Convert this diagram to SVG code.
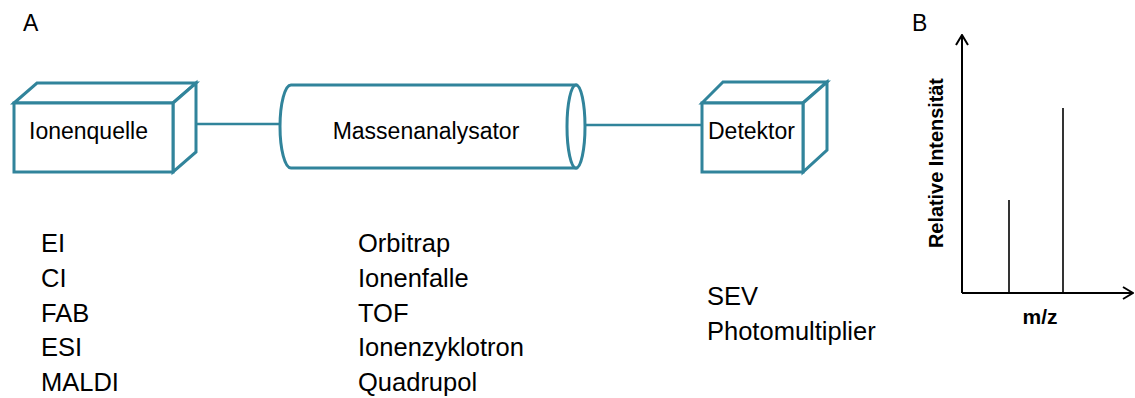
<svg xmlns="http://www.w3.org/2000/svg" width="1135" height="398" viewBox="0 0 1135 398">
<style>
.shape{fill:#ffffff;stroke:#31849B;stroke-width:3;stroke-linejoin:miter}
.conn{stroke:#31849B;stroke-width:2.5;fill:none}
.t{font-family:"Liberation Sans",Arial,sans-serif;fill:#000}
.lbl{font-size:23px}
.lst{font-size:25.5px}
.ax{stroke:#000;stroke-width:2;fill:none}
.pk{stroke:#000;stroke-width:1.6}
.b{font-family:"Liberation Sans",Arial,sans-serif;font-weight:bold;font-size:21px;fill:#000}
</style>
<defs>
<marker id="open" viewBox="0 0 12 14" refX="11" refY="7" markerWidth="12" markerHeight="14" markerUnits="userSpaceOnUse" orient="auto">
<path d="M1,1 L11,7 L1,13" fill="none" stroke="#000" stroke-width="2"/>
</marker>
</defs>
<text class="t" x="23" y="31" font-size="23">A</text>
<g id="connectors">
<line class="conn" x1="196" y1="124" x2="281" y2="124"/>
<line class="conn" x1="586" y1="125" x2="702" y2="125"/>
</g>
<g id="ionenquelle">
<path class="shape" d="M14,103 L37,83 L196,83 L173,103 Z"/>
<path class="shape" d="M173,103 L196,83 L196,152 L173,172 Z"/>
<rect class="shape" x="14" y="103" width="159" height="69"/>
<text class="t lbl" x="29" y="139">Ionenquelle</text>
</g>
<g id="massenanalysator">
<path class="shape" d="M291,85 L576,85 L576,168 L291,168 A11,41.5 0 0 1 291,85 Z"/>
<ellipse class="shape" cx="576" cy="126.5" rx="9" ry="41.5"/>
<text class="t lbl" x="426" y="139" text-anchor="middle">Massenanalysator</text>
</g>
<g id="detektor">
<path class="shape" d="M702,103 L723,82 L827,82 L803,103 Z"/>
<path class="shape" d="M803,103 L827,82 L827,150 L803,172 Z"/>
<rect class="shape" x="702" y="103" width="101" height="69"/>
<text class="t lbl" x="708" y="139">Detektor</text>
</g>
<g id="liste-quellen">
<text class="t lst" x="41" y="252">EI</text>
<text class="t lst" x="41" y="287">CI</text>
<text class="t lst" x="41" y="322">FAB</text>
<text class="t lst" x="41" y="356">ESI</text>
<text class="t lst" x="41" y="391">MALDI</text>
</g>
<g id="liste-analysatoren">
<text class="t lst" x="358" y="252">Orbitrap</text>
<text class="t lst" x="358" y="287">Ionenfalle</text>
<text class="t lst" x="358" y="322">TOF</text>
<text class="t lst" x="358" y="356">Ionenzyklotron</text>
<text class="t lst" x="358" y="391">Quadrupol</text>
</g>
<g id="liste-detektoren">
<text class="t lst" x="707" y="305">SEV</text>
<text class="t lst" x="707" y="340">Photomultiplier</text>
</g>
<g id="spektrum">
<text class="t" x="912" y="31" font-size="23">B</text>
<line class="ax" x1="962" y1="293" x2="962" y2="35" marker-end="url(#open)"/>
<line class="ax" x1="962" y1="293" x2="1133" y2="293" marker-end="url(#open)"/>
<line class="pk" x1="1009" y1="200" x2="1009" y2="293"/>
<line class="pk" x1="1063" y1="108" x2="1063" y2="293"/>
<text class="b" x="1040" y="324" text-anchor="middle">m/z</text>
<text class="b" transform="translate(943,163) rotate(-90)" text-anchor="middle" textLength="170" lengthAdjust="spacingAndGlyphs">Relative Intensität</text>
</g>
</svg>
